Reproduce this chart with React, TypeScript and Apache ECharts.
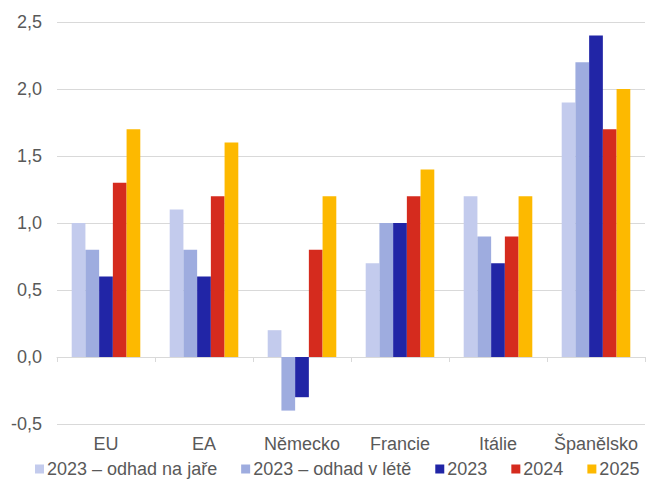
import React, { useEffect, useRef } from "react";
import * as echarts from "echarts";

const categories = ["EU", "EA", "Německo", "Francie", "Itálie", "Španělsko"];
const seriesNames = ["2023 – odhad na jaře", "2023 – odhad v létě", "2023", "2024", "2025"];
const spring2023 = [1.0, 1.1, 0.2, 0.7, 1.2, 1.9];
const summer2023 = [0.8, 0.8, -0.4, 1.0, 0.9, 2.2];
const actual2023 = [0.6, 0.6, -0.3, 1.0, 0.7, 2.4];
const y2024 = [1.3, 1.2, 0.8, 1.2, 0.9, 1.7];
const y2025 = [1.7, 1.6, 1.2, 1.4, 1.2, 2.0];
const colors = ["#c3cbed", "#9eacdf", "#2125a6", "#d52b1e", "#fdb900"];

export default function App() {
  const ref = useRef<HTMLDivElement>(null);
  useEffect(() => {
    document.body.style.margin = "0";
    if (!ref.current) return;
    const chart = echarts.init(ref.current, null, { renderer: "svg" });
    const data = [spring2023, summer2023, actual2023, y2024, y2025];
    chart.setOption({
      animation: false,
      textStyle: { fontFamily: "Liberation Sans, Arial, sans-serif" },
      grid: { left: 57, right: 4, top: 22, bottom: 60, containLabel: false },
      legend: {
        bottom: 1,
        left: 30,
        itemWidth: 9,
        itemHeight: 9,
        itemGap: 24,
        icon: "rect",
        textStyle: { fontSize: 18, color: "#595959", padding: [0, 0, 0, -2] },
        data: seriesNames,
      },
      xAxis: [
        {
          type: "category",
          data: categories,
          axisLine: { onZero: true, lineStyle: { color: "#d9d9d9", width: 1 } },
          axisTick: { show: true, length: 5, lineStyle: { color: "#d9d9d9" } },
          axisLabel: { show: false },
        },
        {
          type: "category",
          data: categories,
          position: "bottom",
          axisLine: { show: false, onZero: false },
          axisTick: { show: false },
          axisLabel: { fontSize: 18, color: "#595959", margin: 11, interval: 0, hideOverlap: false },
        },
      ],
      yAxis: {
        type: "value",
        min: -0.5,
        max: 2.5,
        interval: 0.5,
        axisLine: { show: false },
        axisTick: { show: false },
        splitLine: { lineStyle: { color: "#d9d9d9", width: 1 } },
        axisLabel: {
          fontSize: 18,
          color: "#595959",
          margin: 15,
          formatter: (v: number) => v.toFixed(1).replace(".", ","),
        },
      },
      series: seriesNames.map((name, i) => ({
        name,
        type: "bar",
        xAxisIndex: 0,
        data: data[i],
        barGap: "0%",
        barCategoryGap: "30%",
        itemStyle: { color: colors[i] },
      })),
    });
    return () => chart.dispose();
  }, []);
  return <div ref={ref} style={{ width: 649, height: 484 }} />;
}
